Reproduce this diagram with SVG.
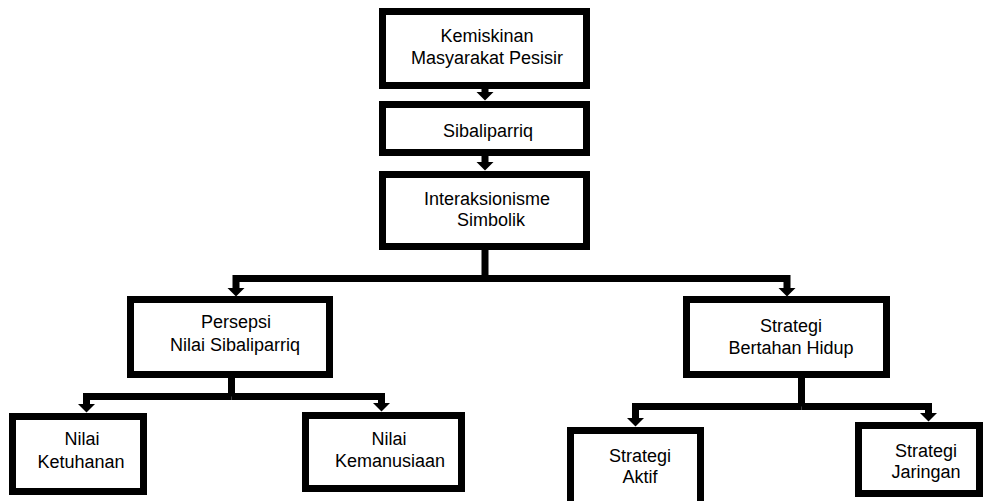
<svg xmlns="http://www.w3.org/2000/svg" width="984" height="501" viewBox="0 0 984 501">
<style>
.box{fill:#fff;stroke:#000;stroke-width:7}
.con{fill:none;stroke:#000;stroke-width:7;stroke-linejoin:miter}
text{font-family:"Liberation Sans",Arial,sans-serif;font-size:18px;fill:#000;text-anchor:middle}
</style>
<defs>
<marker id="ah" viewBox="0 0 9 18" markerUnits="userSpaceOnUse" markerWidth="9" markerHeight="18" refX="0.5" refY="9" orient="auto">
<path d="M0,0 L9,9 L0,18 Z" fill="#000"/>
</marker>
</defs>
<rect width="984" height="501" fill="#fff"/>
<g id="connectors">
<path class="con" d="M485 89 V92" marker-end="url(#ah)"/>
<path class="con" d="M485 156 V162" marker-end="url(#ah)"/>
<path class="con" d="M485 250 V278.5"/>
<path class="con" d="M485 278.5 H236 V288" marker-end="url(#ah)"/>
<path class="con" d="M485 278.5 H787 V288" marker-end="url(#ah)"/>
<path class="con" d="M231.5 378 V396.5"/>
<path class="con" d="M231.5 396.5 H86.5 V404" marker-end="url(#ah)"/>
<path class="con" d="M231.5 396.5 H381.5 V403" marker-end="url(#ah)"/>
<path class="con" d="M801.5 378 V406.5"/>
<path class="con" d="M801.5 406.5 H635.5 V418" marker-end="url(#ah)"/>
<path class="con" d="M801.5 406.5 H928.5 V413" marker-end="url(#ah)"/>
</g>
<g id="n-kemiskinan">
<rect class="box" x="382.5" y="11.5" width="204" height="74"/>
<text x="487" y="42">Kemiskinan</text>
<text x="487" y="64">Masyarakat Pesisir</text>
</g>
<g id="n-sibaliparriq">
<rect class="box" x="382.5" y="104.5" width="204" height="48"/>
<text x="488" y="137">Sibaliparriq</text>
</g>
<g id="n-interaksionisme">
<rect class="box" x="382.5" y="174.5" width="204" height="72"/>
<text x="487" y="205">Interaksionisme</text>
<text x="491" y="226">Simbolik</text>
</g>
<g id="n-persepsi">
<rect class="box" x="130.5" y="299.5" width="199" height="75"/>
<text x="236" y="328">Persepsi</text>
<text x="235" y="351">Nilai Sibaliparriq</text>
</g>
<g id="n-strategi-bertahan">
<rect class="box" x="686.5" y="299.5" width="200" height="75"/>
<text x="791" y="332">Strategi</text>
<text x="791" y="354">Bertahan Hidup</text>
</g>
<g id="n-ketuhanan">
<rect class="box" x="12.5" y="416.5" width="131" height="75"/>
<text x="82" y="445">Nilai</text>
<text x="81" y="468">Ketuhanan</text>
</g>
<g id="n-kemanusiaan">
<rect class="box" x="305.5" y="415.5" width="156" height="73"/>
<text x="389" y="445">Nilai</text>
<text x="390" y="467">Kemanusiaan</text>
</g>
<g id="n-aktif">
<rect class="box" x="570.5" y="430.5" width="130" height="80"/>
<text x="640" y="462">Strategi</text>
<text x="640" y="483">Aktif</text>
</g>
<g id="n-jaringan">
<rect class="box" x="858.5" y="425.5" width="121" height="68"/>
<text x="926" y="457">Strategi</text>
<text x="926" y="478">Jaringan</text>
</g>
</svg>
